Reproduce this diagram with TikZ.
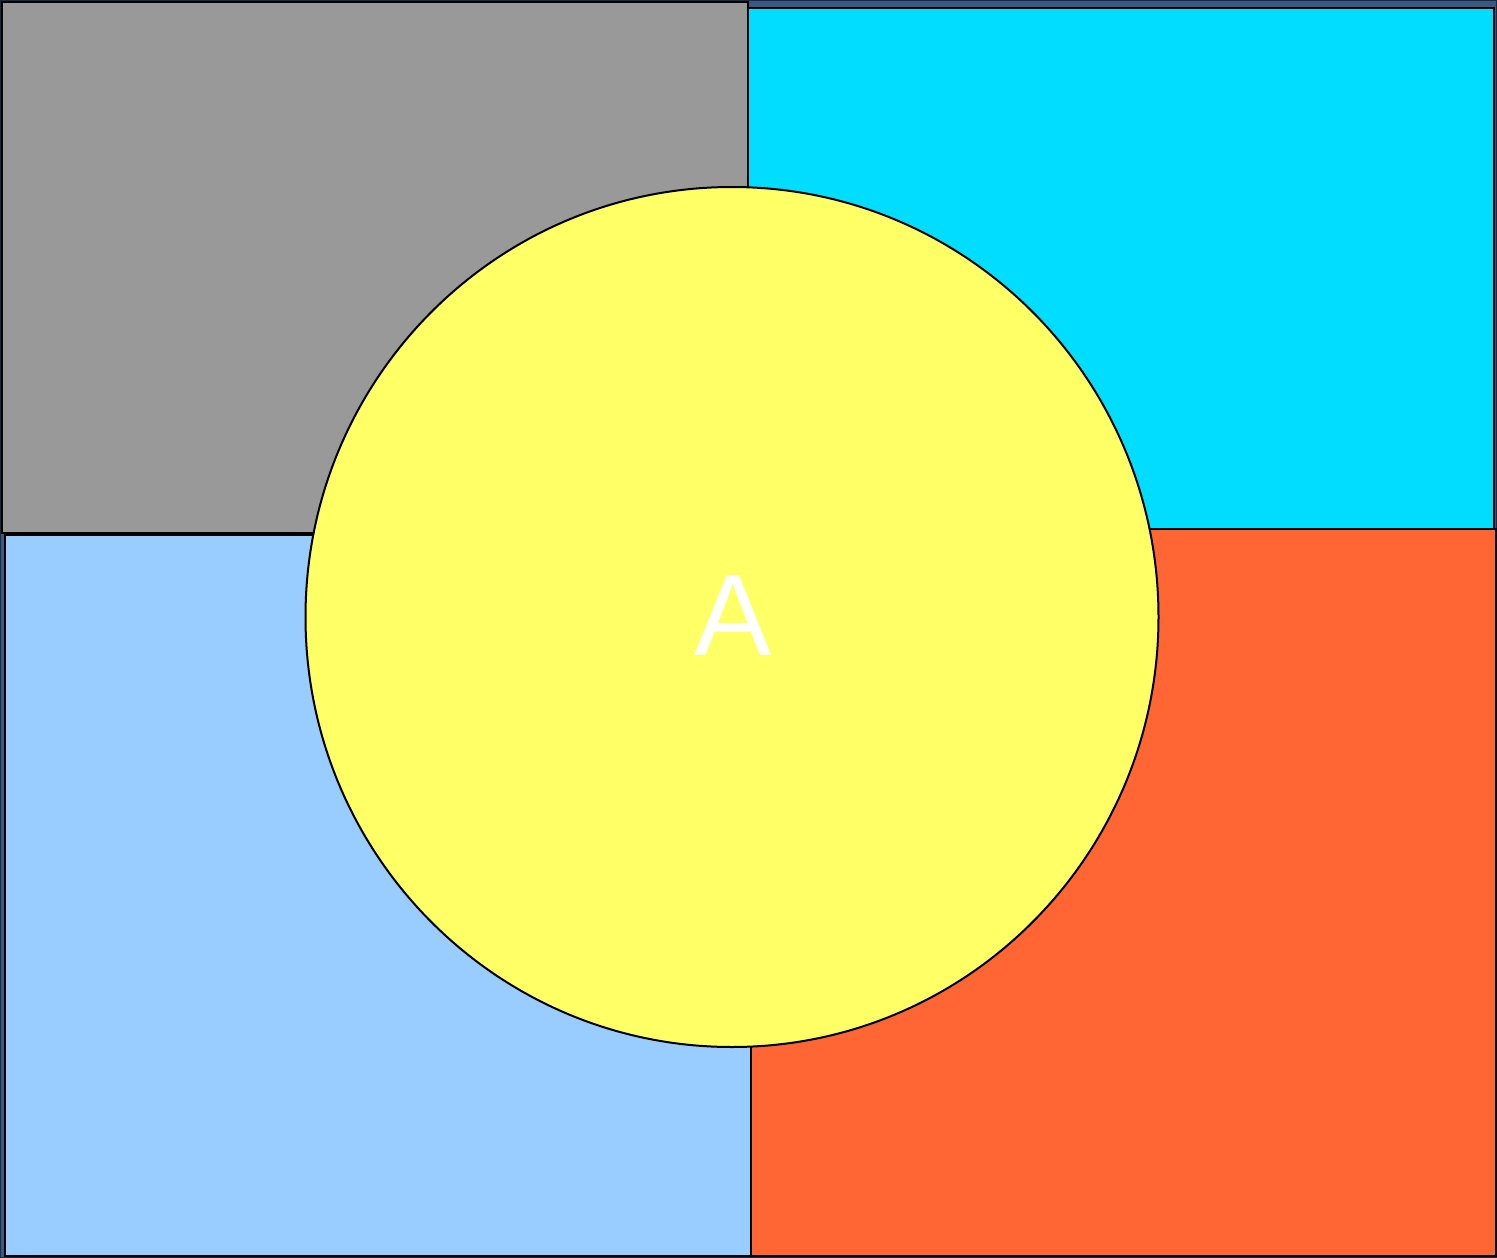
\documentclass[tikz,border=0pt]{standalone}
\usepackage{fontspec}
\setmainfont{Liberation Sans}
\usetikzlibrary{shapes.geometric}
\definecolor{bgblue}{HTML}{3A5880}
\definecolor{bgedge}{HTML}{1A2A40}
\definecolor{grayfill}{HTML}{999999}
\definecolor{cyanfill}{HTML}{00DDFF}
\definecolor{lbluefill}{HTML}{99CCFF}
\definecolor{orangefill}{HTML}{FF6633}
\definecolor{yellowfill}{HTML}{FFFF66}
\tikzset{panel/.style={draw=black,line width=2pt}}
\begin{document}
\begin{tikzpicture}[x=1pt,y=-1pt]
\useasboundingbox (0,0) rectangle (1497,1258);
\fill[bgblue] (0,0) rectangle (1497,1258);
\draw[bgedge,line width=1pt] (0.5,0.5) rectangle (1496.5,1257.5);
\path[panel,fill=cyanfill] (748,8) rectangle (1494,529);
\path[panel,fill=orangefill] (751,529) rectangle (1496,1256);
\path[panel,fill=lbluefill] (5,535) rectangle (751,1256);
\path[panel,fill=grayfill] (2,2) rectangle (748,533);
\node[ellipse,draw=black,line width=2pt,fill=yellowfill,minimum width=853pt,minimum height=860pt,inner sep=0pt] (circ) at (732,617) {};
\node[text=white,font=\fontsize{116}{116}\selectfont,inner sep=0pt] (lbl) at (733,616) {A};
\end{tikzpicture}
\end{document}
